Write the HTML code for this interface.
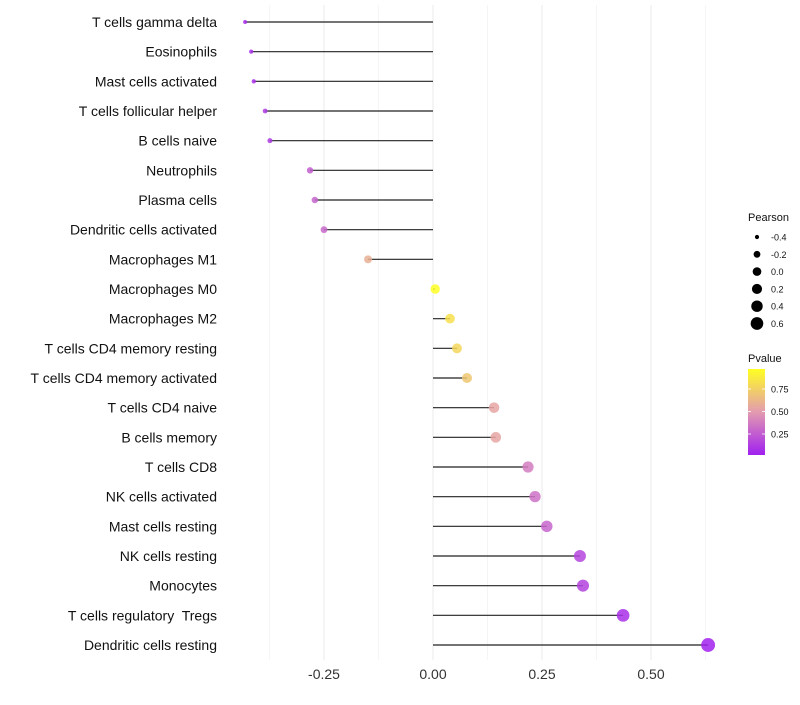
<!DOCTYPE html>
<html><head><meta charset="utf-8"><style>
body{margin:0;background:#fff;font-family:"Liberation Sans",sans-serif}
text{white-space:pre}
</style></head><body>
<svg id="chart" width="800" height="700" xmlns="http://www.w3.org/2000/svg" font-family="Liberation Sans, sans-serif">
<defs>
<linearGradient id="pg" x1="0" y1="1" x2="0" y2="0">
<stop offset="0" stop-color="#a020f0"/><stop offset="0.5" stop-color="#e39bb0"/><stop offset="1" stop-color="#ffff22"/>
</linearGradient>
</defs>
<g id="grid"></g><g id="marks"></g><g id="labels"></g>
<g id="legend"></g>
</svg>
<script>
const categories=["T cells gamma delta","Eosinophils","Mast cells activated","T cells follicular helper","B cells naive","Neutrophils","Plasma cells","Dendritic cells activated","Macrophages M1","Macrophages M0","Macrophages M2","T cells CD4 memory resting","T cells CD4 memory activated","T cells CD4 naive","B cells memory","T cells CD8","NK cells activated","Mast cells resting","NK cells resting","Monocytes","T cells regulatory  Tregs","Dendritic cells resting"];
const pearson=[-0.431,-0.417,-0.411,-0.385,-0.374,-0.282,-0.271,-0.250,-0.149,0.005,0.039,0.055,0.078,0.140,0.144,0.218,0.234,0.261,0.337,0.344,0.436,0.631];
const pvalue=[0.05,0.06,0.06,0.1,0.1,0.25,0.28,0.3,0.6,1.0,0.85,0.8,0.72,0.55,0.55,0.38,0.33,0.28,0.15,0.14,0.06,0.01];
const xTicks=[-0.25,0,0.25,0.5];
const xTickLabels=["-0.25","0.00","0.25","0.50"];
const sizeBreaks=[-0.4,-0.2,0,0.2,0.4,0.6];
const sizeLabels=["-0.4","-0.2","0.0","0.2","0.4","0.6"];
const pBreaks=[0.75,0.5,0.25];
const pLabels=["0.75","0.50","0.25"];
const NS="http://www.w3.org/2000/svg";
const x=v=>433+436*v;
const y=i=>22+i*(623/21);
const r=v=>Math.sqrt(Math.max(1,22+42*v));
function lerp(a,b,t){return a.map((c,i)=>Math.round(c+(b[i]-c)*t));}
function col(p){const s=[[160,32,240],[227,155,176],[255,255,34]];
 let c=p<0.5?lerp(s[0],s[1],p/0.5):lerp(s[1],s[2],(p-0.5)/0.5);return `rgb(${c})`;}
function el(t,a,parent){const e=document.createElementNS(NS,t);for(const k in a)e.setAttribute(k,a[k]);parent.appendChild(e);return e;}
const grid=document.getElementById('grid'),marks=document.getElementById('marks'),labels=document.getElementById('labels'),leg=document.getElementById('legend');
for(let v=-0.375;v<=0.63;v+=0.125){
 const major=Math.abs(v/0.25-Math.round(v/0.25))<1e-6;
 const g=el('line',{x1:x(v),x2:x(v),y1:5,y2:660,stroke:major?'#ebebeb':'#f3f3f3','stroke-width':major?1:0.8},grid);
 
 
}
xTicks.forEach((v,i)=>{
 const t=el('text',{x:x(v),y:679,'text-anchor':'middle','font-size':14,fill:'#333'},labels);t.textContent=xTickLabels[i];
 
 
});
categories.forEach((c,i)=>{
 const t=el('text',{x:217,y:y(i)+5,'text-anchor':'end','font-size':14,fill:'#111'},labels);t.textContent=c;
 
 
 const l=el('line',{x1:x(0),x2:x(pearson[i]),y1:y(i),y2:y(i),stroke:'#222','stroke-width':1.2},marks);
 
 
 const p=el('circle',{cx:x(pearson[i]),cy:y(i),r:r(pearson[i]),fill:col(pvalue[i]),'fill-opacity':0.85},marks);
 
 
});
let t=el('text',{x:748,y:221,'font-size':11,fill:'#111'},leg);t.textContent='Pearson';


sizeBreaks.forEach((v,i)=>{
 const cy=237+i*17.3;
 const c=el('circle',{cx:757,cy:cy,r:r(v)*0.92,fill:'#000'},leg);
 
 
 const s=el('text',{x:771,y:cy+3.5,'font-size':9,fill:'#111'},leg);s.textContent=sizeLabels[i];
 
 
});
t=el('text',{x:748,y:362,'font-size':11,fill:'#111'},leg);t.textContent='Pvalue';


const bar=el('rect',{x:748,y:369,width:17,height:86,fill:'url(#pg)'},leg);


pBreaks.forEach((v,i)=>{
 const yy=456.5-90*v;
 el('line',{x1:748,x2:751,y1:yy,y2:yy,stroke:'#fff','stroke-width':0.8},leg);
 el('line',{x1:762,x2:765,y1:yy,y2:yy,stroke:'#fff','stroke-width':0.8},leg);
 const s=el('text',{x:771,y:yy+3.5,'font-size':9,fill:'#111'},leg);s.textContent=pLabels[i];
 
 
});
</script>
</body></html>
